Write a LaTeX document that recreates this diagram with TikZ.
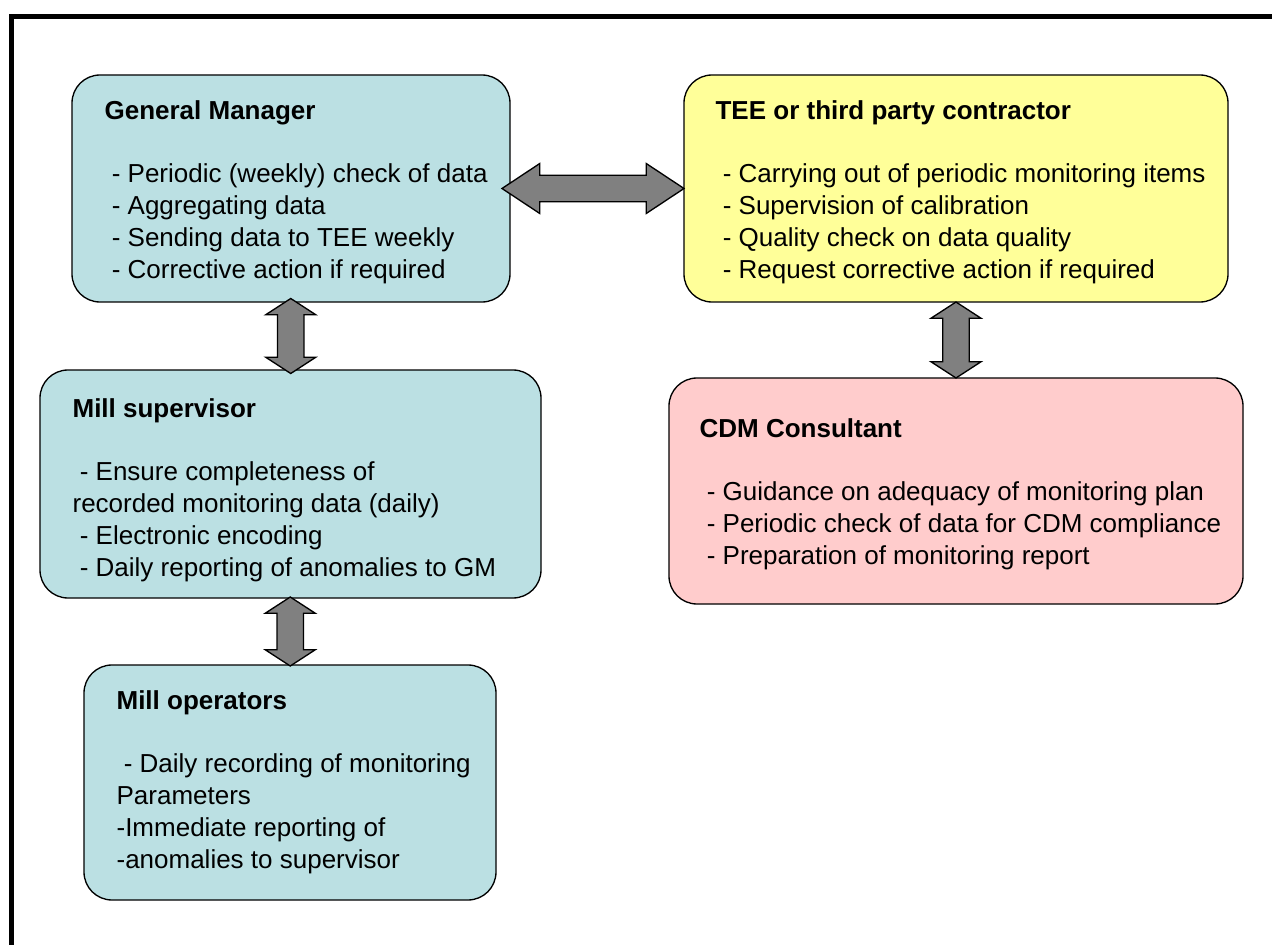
\documentclass[tikz,border=0pt]{standalone}
\usepackage{fontspec}
\setmainfont{Liberation Sans}
\usetikzlibrary{shapes.arrows, positioning, calc, fit}
\definecolor{pale_turquoise}{RGB}{187, 224, 227}
\definecolor{pale_yellow}{RGB}{255, 255, 153}
\definecolor{pale_pink}{RGB}{255, 204, 204}
\definecolor{arrow_gray}{RGB}{128, 128, 128}
\def \px {0.75pt}

\begin{document}
\begin{tikzpicture}[
    x=\px, y=-\px,
    rolebox/.style={
        rectangle,
        draw=black,
        fill=#1,
        line width=1pt,
        rounded corners=21pt,
        inner sep=0pt
    },
    roletext/.style={
        anchor=north west,
        inner sep=0pt,
        align=left,
        font=\fontsize{19.5pt}{23.8pt}\selectfont
    },
    fatarrow/.style={
        double arrow,
        draw=black,
        fill=arrow_gray,
        line width=1pt,
        inner xsep=0pt,
        inner ysep=9.4pt,
        minimum width=0pt,
        double arrow head extend=8.8pt,
        double arrow tip angle=#1
    }
]
\useasboundingbox (0,0) rectangle (1272,945);

% Frame at top and left
\draw[line width=3.75pt] (11.5,945) |- (1272,16.5);

% Left column - mill staff
\node[rolebox=pale_turquoise, fit={(72,75) (510,302)}] (gm) {};
\node[rolebox=pale_turquoise, fit={(40,370) (541,598)}] (ms) {};
\node[rolebox=pale_turquoise, fit={(84,665) (496,900)}] (mo) {};

% Right column - outside parties
\node[rolebox=pale_yellow, fit={(684,75) (1228,302)}] (tee) {};
\node[rolebox=pale_pink, fit={(669,378) (1243,604)}] (cdm) {};

% Texts
\node[roletext] (gmtext) at ($(gm.north west)+(33,26)$) {\textbf{General Manager}\\[23.8pt]
\ - Periodic (weekly) check of data\\
\ - Aggregating data\\
\ - Sending data to TEE weekly\\
\ - Corrective action if required};

\node[roletext] (mstext) at ($(ms.north west)+(33,29)$) {\textbf{Mill supervisor}\\[23.8pt]
\ - Ensure completeness of\\
recorded monitoring data (daily)\\
\ - Electronic encoding\\
\ - Daily reporting of anomalies to GM};

\node[roletext] (motext) at ($(mo.north west)+(33,26)$) {\textbf{Mill operators}\\[23.8pt]
\ - Daily recording of monitoring\\
Parameters\\
-Immediate reporting of\\
-anomalies to supervisor};

\node[roletext] (teetext) at ($(tee.north west)+(32,26)$) {\textbf{TEE or third party contractor}\\[23.8pt]
\ - Carrying out of periodic monitoring items\\
\ - Supervision of calibration\\
\ - Quality check on data quality\\
\ - Request corrective action if required};

\node[roletext] (cdmtext) at ($(cdm.north west)+(31,41)$) {\textbf{CDM Consultant}\\[23.8pt]
\ - Guidance on adequacy of monitoring plan\\
\ - Periodic check of data for CDM compliance\\
\ - Preparation of monitoring report};

% Two-way links
\node[fatarrow=67, minimum height=136.5pt] (gmtee) at ($(gm.east)!0.5!(tee.west)+(-4,0)$) {};
\node[fatarrow=114, rotate=90, minimum height=56.25pt] (gmms) at ($(gm.south)!0.5!(ms.north)$) {};
\node[fatarrow=114, rotate=90, minimum height=57pt] (teecdm) at ($(tee.south)!0.5!(cdm.north)$) {};
\node[fatarrow=114, rotate=90, minimum height=51.75pt] (msmo) at ($(ms.south)!0.5!(mo.north)$) {};

\end{tikzpicture}
\end{document}
